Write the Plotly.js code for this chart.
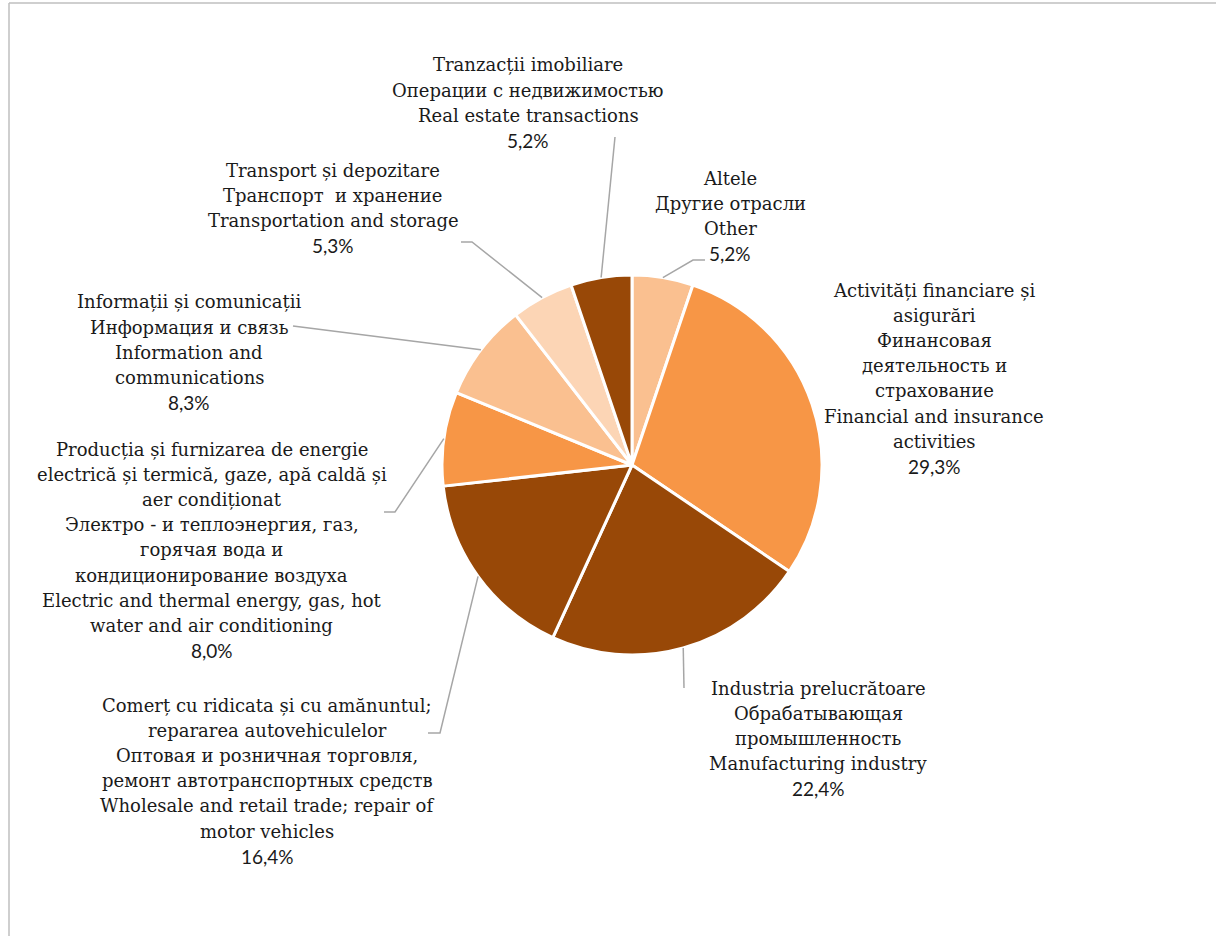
<!DOCTYPE html>
<html>
<head>
<meta charset="utf-8">
<script src="https://cdn.plot.ly/plotly-3.0.1.min.js"></script>
<style>html,body{margin:0;padding:0;background:#fff;}</style>
</head>
<body>
<div id="chart" style="width:1216px;height:936px;"></div>
<script>
// ---------- DATA ----------
const categoriesEn = [
  "Other",
  "Financial and insurance activities",
  "Manufacturing industry",
  "Wholesale and retail trade; repair of motor vehicles",
  "Electric and thermal energy, gas, hot water and air conditioning",
  "Information and communications",
  "Transportation and storage",
  "Real estate transactions"
];
const shares = [5.2, 29.3, 22.4, 16.4, 8.0, 8.3, 5.3, 5.2];
const labelLines = [
  ["Altele", "Другие отрасли", "Other"],
  ["Activități financiare și", "asigurări", "Финансовая", "деятельность и", "страхование", "Financial and insurance", "activities"],
  ["Industria prelucrătoare", "Обрабатывающая", "промышленность", "Manufacturing industry"],
  ["Comerț cu ridicata și cu amănuntul;", "repararea autovehiculelor", "Оптовая и розничная торговля,", "ремонт автотранспортных средств", "Wholesale and retail trade; repair of", "motor vehicles"],
  ["Producția și furnizarea de energie", "electrică și termică, gaze, apă caldă și", "aer condiționat", "Электро - и теплоэнергия, газ,", "горячая вода и", "кондиционирование воздуха", "Electric and thermal energy, gas, hot", "water and air conditioning"],
  ["Informații și comunicații", "Информация и связь", "Information and", "communications"],
  ["Transport și depozitare", "Транспорт  и хранение", "Transportation and storage"],
  ["Tranzacții imobiliare", "Операции с недвижимостью", "Real estate transactions"]
];
const sliceColors = ["#FAC090", "#F79646", "#984807", "#984807", "#F79646", "#FAC090", "#FCD5B5", "#984807"];

// ---------- LAYOUT CONSTANTS ----------
const W = 1216, H = 936;
const CX = 632, CY = 465, R = 190;
const LINE_GAP = 25.2;
const labelPos = [
  {x: 730, y: 178}, {x: 934, y: 290}, {x: 818, y: 688}, {x: 267, y: 705},
  {x: 212, y: 449}, {x: 189, y: 302}, {x: 333, y: 170}, {x: 528, y: 65}
];
const leaderLegs = [
  [[693, 260], [705, 260]],
  null,
  [[684, 688]],
  [[440, 733], [428, 733]],
  [[395, 512], [384, 512]],
  [[293, 326]],
  [[472, 242], [461, 242]],
  [[615, 137]]
];

const px = x => x / W;
const py = y => 1 - y / H;

const total = shares.reduce((a, b) => a + b, 0);
const fmtPct = v => v.toFixed(1).replace('.', ',') + '%';

// ---------- ANNOTATIONS & LEADERS ----------
const annotations = [];
const shapes = [];
let cum = 0;
shares.forEach((v, i) => {
  const mid = (cum + v / 2) / total * 2 * Math.PI;
  cum += v;
  const rimX = CX + R * Math.sin(mid);
  const rimY = CY - R * Math.cos(mid);
  const lines = labelLines[i].concat([fmtPct(v)]);
  lines.forEach((t, k) => {
    const isPct = k === lines.length - 1;
    annotations.push({
      x: px(labelPos[i].x), y: py(labelPos[i].y + k * LINE_GAP),
      xref: 'paper', yref: 'paper', xanchor: 'center', yanchor: 'middle',
      showarrow: false, text: t,
      font: isPct ? {family: 'Lato, "Noto Sans", sans-serif', size: 19, color: '#1a1a1a'}
                  : {family: '"DejaVu Serif", serif', size: 18, color: '#1a1a1a'}
    });
  });
  if (leaderLegs[i]) {
    let path = 'M ' + px(rimX) + ' ' + py(rimY);
    leaderLegs[i].forEach(p => { path += ' L ' + px(p[0]) + ' ' + py(p[1]); });
    shapes.push({type: 'path', xref: 'paper', yref: 'paper', path: path,
                 line: {color: '#A6A6A6', width: 1.5}});
  }
});

// frame border
shapes.push({type: 'line', xref: 'paper', yref: 'paper', x0: px(9), y0: py(3), x1: px(9), y1: py(940), line: {color: '#BFBFBF', width: 1.5}});
shapes.push({type: 'line', xref: 'paper', yref: 'paper', x0: px(9), y0: py(3), x1: px(1220), y1: py(3), line: {color: '#BFBFBF', width: 1.5}});

const trace = {
  type: 'pie',
  values: shares,
  labels: categoriesEn,
  sort: false,
  direction: 'clockwise',
  rotation: 0,
  textinfo: 'none',
  hoverinfo: 'label+percent',
  marker: {colors: sliceColors, line: {color: '#FFFFFF', width: 3}},
  domain: {x: [px(CX - R), px(CX + R)], y: [py(CY + R), py(CY - R)]},
  showlegend: false
};

const layout = {
  width: W, height: H,
  margin: {l: 0, r: 0, t: 0, b: 0},
  paper_bgcolor: '#FFFFFF',
  showlegend: false,
  annotations: annotations,
  shapes: shapes
};

Plotly.newPlot('chart', [trace], layout, {displayModeBar: false, staticPlot: true});
</script>
</body>
</html>
